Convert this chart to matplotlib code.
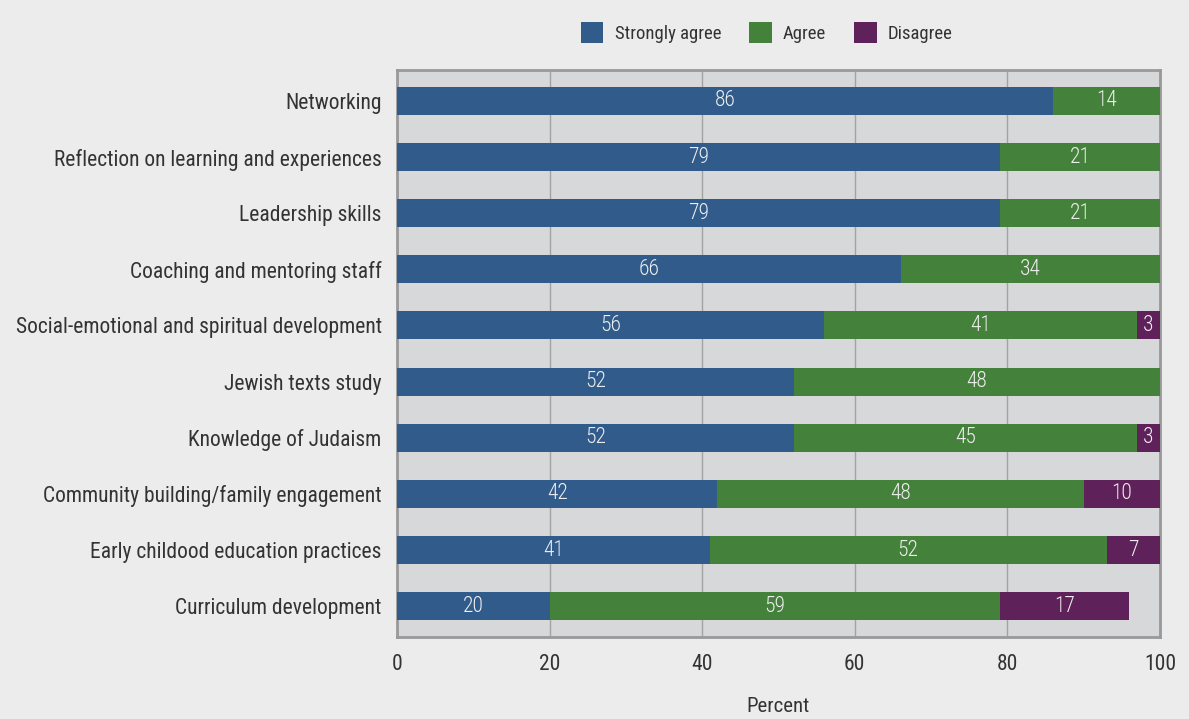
import matplotlib
matplotlib.use("Agg")
import matplotlib.pyplot as plt
from matplotlib.patches import Patch
import numpy as np

categories = [
    "Networking",
    "Reflection on learning and experiences",
    "Leadership skills",
    "Coaching and mentoring staff",
    "Social-emotional and spiritual development",
    "Jewish texts study",
    "Knowledge of Judaism",
    "Community building/family engagement",
    "Early childood education practices",
    "Curriculum development",
]
strongly_agree = [86, 79, 79, 66, 56, 52, 52, 42, 41, 20]
agree = [14, 21, 21, 34, 41, 48, 45, 48, 52, 59]
disagree = [0, 0, 0, 0, 3, 0, 3, 10, 7, 17]
series_names = ["Strongly agree", "Agree", "Disagree"]

colors = ["#315b8a", "#44813a", "#5f2159"]
text_color = "#333333"

plt.rcParams["font.family"] = ["Roboto Condensed", "Liberation Sans Narrow",
                               "Liberation Sans", "DejaVu Sans"]

fig = plt.figure(figsize=(11.89, 7.19), dpi=100, facecolor="#ececec")
ax = fig.add_axes([0.3339, 0.114, 0.9756 - 0.3339, 0.9026 - 0.114])
ax.set_facecolor("#d7d8da")

y = np.arange(len(categories))
left = np.zeros(len(categories))
for vals, col, name in zip([strongly_agree, agree, disagree], colors, series_names):
    vals = np.array(vals, dtype=float)
    ax.barh(y, vals, left=left, height=0.5, color=col, zorder=3, label=name)
    for yi, l, v in zip(y, left, vals):
        if v > 0:
            ax.text(l + v / 2, yi, f"{int(v)}", ha="center", va="center",
                    color="#eeeeee", fontsize=15.5, fontweight="light", zorder=4)
    left += vals

ax.set_xlim(0, 100)
ax.set_ylim(len(categories) - 0.45, -0.55)
ax.set_xticks([0, 20, 40, 60, 80, 100])
ax.set_yticks(y)
ax.set_yticklabels(categories)
ax.tick_params(axis="both", length=0, colors=text_color, labelsize=15.5)
ax.tick_params(axis="x", pad=12)
ax.tick_params(axis="y", pad=11)
ax.xaxis.grid(True, color="#a3a3a3", linewidth=1, zorder=1)
ax.set_axisbelow(True)
for s in ax.spines.values():
    s.set_color("#999999")
    s.set_linewidth(2)

ax.set_xlabel("Percent", fontsize=15, color=text_color, labelpad=16)

handles = [Patch(facecolor=c, edgecolor="none") for c in colors]
fig.legend(handles, series_names, loc="center", bbox_to_anchor=(0.645, 0.955),
           ncol=3, frameon=False, fontsize=13.5, handlelength=1.2, handleheight=1.3,
           columnspacing=1.5, handletextpad=0.6, labelcolor=text_color)

fig.savefig("out.png", dpi=100, facecolor=fig.get_facecolor())
